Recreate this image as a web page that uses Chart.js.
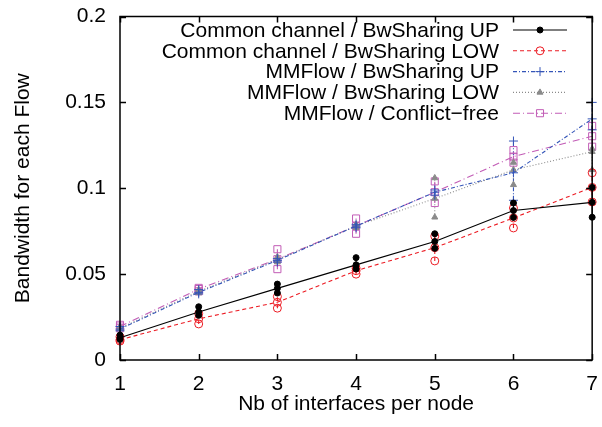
<!DOCTYPE html>
<html>
<head>
<meta charset="utf-8">
<script src="https://cdn.jsdelivr.net/npm/chart.js@4.4.1/dist/chart.umd.min.js"></script>
<style>
  html, body { margin: 0; padding: 0; background: #fff; }
  #chart { display: block; }
</style>
</head>
<body>
<canvas id="chart" width="602" height="427"></canvas>
<script>
const interfaces = [1, 2, 3, 4, 5, 6, 7];
const yTickLabels = ["0", "0.05", "0.1", "0.15", "0.2"];
const seriesNames = [
  "Common channel / BwSharing UP",
  "Common channel / BwSharing LOW",
  "MMFlow / BwSharing UP",
  "MMFlow / BwSharing LOW",
  "MMFlow / Conflict\u2212free",
];

// mean value and the ends of each error bar
const commonUp = [0.0130, 0.0280, 0.0417, 0.0554, 0.0690, 0.0870, 0.0918];
const commonUpLow = [0.0120, 0.0260, 0.0390, 0.0530, 0.0650, 0.0830, 0.0831];
const commonUpHigh = [0.0145, 0.0310, 0.0442, 0.0596, 0.0735, 0.0914, 0.1005];

const commonLow = [0.0118, 0.0240, 0.0336, 0.0520, 0.0654, 0.0827, 0.1005];
const commonLowLow = [0.0110, 0.0210, 0.0302, 0.0500, 0.0577, 0.0769, 0.0920];
const commonLowHigh = [0.0135, 0.0270, 0.0369, 0.0535, 0.0721, 0.0885, 0.1090];

const mmUp = [0.0180, 0.0394, 0.0580, 0.0780, 0.0977, 0.1090, 0.1404];
const mmUpLow = [0.0170, 0.0385, 0.0570, 0.0770, 0.0960, 0.0930, 0.1340];
const mmUpHigh = [0.0195, 0.0410, 0.0590, 0.0790, 0.0990, 0.1275, 0.1500];

const mmLow = [0.0185, 0.0400, 0.0585, 0.0780, 0.0940, 0.1107, 0.1213];
const mmLowLow = [0.0180, 0.0390, 0.0570, 0.0770, 0.0831, 0.1020, 0.1107];
const mmLowHigh = [0.0195, 0.0410, 0.0600, 0.0790, 0.1060, 0.1150, 0.1230];

const conflictFree = [0.0195, 0.0413, 0.0587, 0.0780, 0.0977, 0.1184, 0.1303];
const conflictFreeLow = [0.0185, 0.0400, 0.0529, 0.0735, 0.0914, 0.1149, 0.1242];
const conflictFreeHigh = [0.0205, 0.0420, 0.0645, 0.0824, 0.1040, 0.1222, 0.1363];

const FONT = "'Liberation Sans', Arial, sans-serif";
const FONT_SIZE = 21;

const styles = [
  { color: "#000000", dash: [], point: "circle", radius: 3, fill: true, width: 1.1 },
  { color: "#ec1c24", dash: [4, 3], point: "circle", radius: 4, fill: false, width: 1.1 },
  { color: "#3455b8", dash: [4, 2, 1, 2], point: "cross", radius: 4.5, fill: false, width: 1.1 },
  { color: "#8a8a8a", dash: [1, 2], point: "triangle", radius: 3.5, fill: true, width: 1.1 },
  { color: "#c25cb6", dash: [7, 3, 1, 3], point: "rect", radius: 5, fill: false, width: 1.1 },
];

const seriesData = [
  [commonUp, commonUpLow, commonUpHigh],
  [commonLow, commonLowLow, commonLowHigh],
  [mmUp, mmUpLow, mmUpHigh],
  [mmLow, mmLowLow, mmLowHigh],
  [conflictFree, conflictFreeLow, conflictFreeHigh],
];

function toPoints(values) {
  return interfaces.map((x, i) => ({ x, y: values[i] }));
}

const datasets = [];
seriesData.forEach(([mean, low, high], i) => {
  const s = styles[i];
  const common = {
    borderColor: s.color,
    backgroundColor: s.fill ? s.color : "rgba(0,0,0,0)",
    pointStyle: s.point,
    pointRadius: s.radius,
    pointBorderWidth: 1,
    clip: false,
  };
  datasets.push({
    ...common,
    label: seriesNames[i],
    data: toPoints(mean),
    showLine: true,
    borderWidth: s.width,
    borderDash: s.dash,
    series: i,
    role: "mean",
    errLow: low,
    errHigh: high,
  });
  datasets.push({ ...common, label: "", data: toPoints(low), showLine: false, role: "end" });
  datasets.push({ ...common, label: "", data: toPoints(high), showLine: false, role: "end" });
});

function drawMarker(ctx, s, x, y) {
  ctx.save();
  ctx.setLineDash([]);
  ctx.strokeStyle = s.color;
  ctx.fillStyle = s.fill ? s.color : "rgba(0,0,0,0)";
  ctx.lineWidth = 1;
  if (Chart.helpers && Chart.helpers.drawPoint) {
    Chart.helpers.drawPoint(ctx, { pointStyle: s.point, radius: s.radius, borderWidth: 1 }, x, y);
  }
  ctx.restore();
}

const errorBars = {
  id: "errorBars",
  beforeDatasetsDraw(chart) {
    const { ctx } = chart;
    const xs = chart.scales.x, ys = chart.scales.y;
    chart.data.datasets.forEach((ds) => {
      if (ds.role !== "mean") return;
      const s = styles[ds.series];
      ctx.save();
      ctx.strokeStyle = s.color;
      ctx.lineWidth = s.width;
      ctx.setLineDash(s.dash);
      interfaces.forEach((xv, j) => {
        const px = xs.getPixelForValue(xv);
        ctx.beginPath();
        ctx.moveTo(px, ys.getPixelForValue(ds.errLow[j]));
        ctx.lineTo(px, ys.getPixelForValue(ds.errHigh[j]));
        ctx.stroke();
      });
      ctx.restore();
    });
  },
};

const frame = {
  id: "frame",
  afterDatasetsDraw(chart) {
    const { ctx, chartArea: a } = chart;
    const xs = chart.scales.x, ys = chart.scales.y;
    const tl = 6;
    ctx.save();
    ctx.strokeStyle = "#000";
    ctx.lineWidth = 1.5;
    ctx.setLineDash([]);
    ctx.beginPath();
    xs.ticks.forEach((t) => {
      const px = Math.round(xs.getPixelForValue(t.value)) + 0.5;
      ctx.moveTo(px, a.bottom); ctx.lineTo(px, a.bottom - tl);
      ctx.moveTo(px, a.top); ctx.lineTo(px, a.top + tl);
    });
    ys.ticks.forEach((t) => {
      const py = Math.round(ys.getPixelForValue(t.value)) + 0.5;
      ctx.moveTo(a.left, py); ctx.lineTo(a.left + tl, py);
      ctx.moveTo(a.right, py); ctx.lineTo(a.right - tl, py);
    });
    ctx.stroke();
    ctx.strokeRect(a.left, a.top, a.right - a.left, a.bottom - a.top);
    ctx.restore();
  },
};

const keyBox = {
  id: "keyBox",
  afterDraw(chart) {
    const { ctx } = chart;
    const textRight = 499;
    const lineStart = 513, lineEnd = 567;
    const top = 30, step = 20.8;
    ctx.save();
    ctx.font = FONT_SIZE + "px " + FONT;
    ctx.textAlign = "right";
    ctx.textBaseline = "middle";
    seriesNames.forEach((name, i) => {
      const s = styles[i];
      const y = top + i * step;
      ctx.fillStyle = "#000";
      ctx.fillText(name, textRight, y + 1);
      ctx.strokeStyle = s.color;
      ctx.lineWidth = s.width;
      ctx.setLineDash(s.dash);
      ctx.beginPath();
      ctx.moveTo(lineStart, y);
      ctx.lineTo(lineEnd, y);
      ctx.stroke();
      drawMarker(ctx, s, (lineStart + lineEnd) / 2, y);
    });
    ctx.restore();
  },
};

new Chart(document.getElementById("chart").getContext("2d"), {
  type: "scatter",
  data: { datasets },
  options: {
    responsive: false,
    animation: false,
    devicePixelRatio: 1,
    layout: { padding: { top: 4, right: 9, left: 0, bottom: 0 } },
    plugins: { legend: { display: false }, tooltip: { enabled: false } },
    scales: {
      x: {
        type: "linear",
        min: 1,
        max: 7,
        grid: { display: false },
        border: { display: false },
        ticks: {
          stepSize: 1,
          padding: 4,
          color: "#000",
          font: { family: FONT, size: FONT_SIZE },
          maxRotation: 0,
          callback: (v) => String(v),
        },
        title: {
          display: true,
          text: "Nb of interfaces per node",
          color: "#000",
          font: { family: FONT, size: FONT_SIZE },
          padding: { top: 0, bottom: 10 },
        },
        afterFit: (scale) => { scale.height = 67; },
      },
      y: {
        type: "linear",
        min: 0,
        max: 0.2,
        grid: { display: false },
        border: { display: false },
        ticks: {
          stepSize: 0.05,
          padding: 6,
          color: "#000",
          font: { family: FONT, size: FONT_SIZE, lineHeight: 1 },
          callback: (v, i) => yTickLabels[i],
        },
        title: {
          display: true,
          text: "Bandwidth for each Flow",
          color: "#000",
          font: { family: FONT, size: FONT_SIZE },
          padding: { top: 11, bottom: 0 },
        },
        afterFit: (scale) => { scale.width = 120; },
      },
    },
  },
  plugins: [errorBars, frame, keyBox],
});
</script>
</body>
</html>
